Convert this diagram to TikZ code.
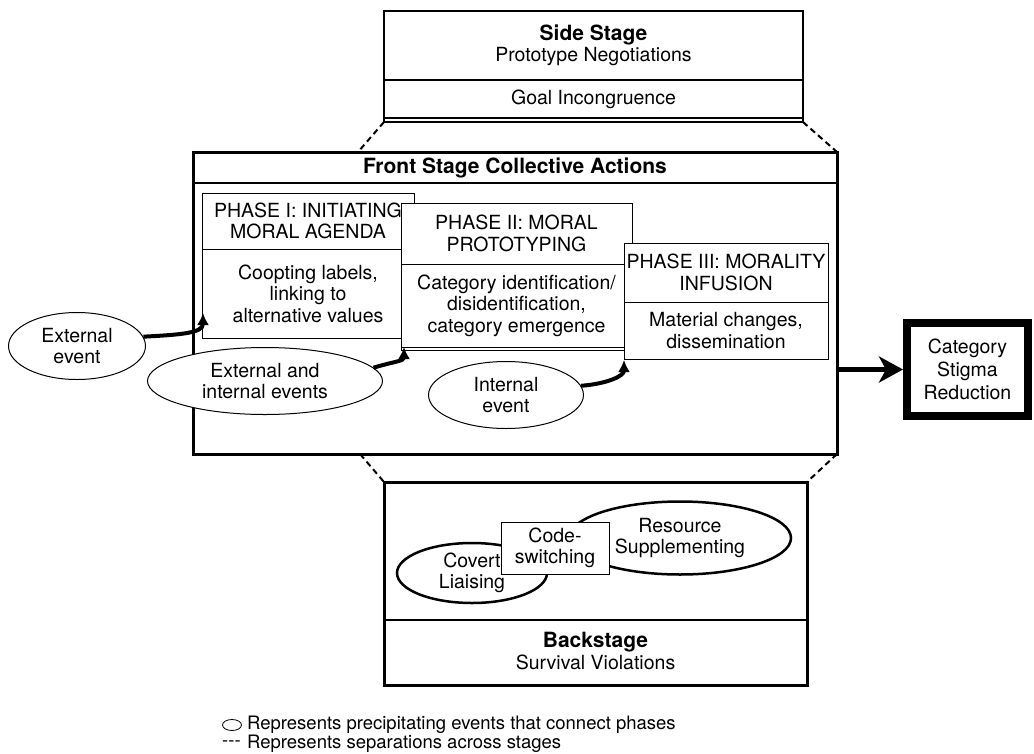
\documentclass[tikz,border=0pt]{standalone}
\usepackage{fontspec}
\setmainfont{TeX Gyre Heros}
\usetikzlibrary{shapes.geometric,arrows.meta,calc}
\begin{document}
\begin{tikzpicture}[x=1pt,y=-1pt,
  txt/.style={font=\fontsize{19.5}{21.5}\selectfont, align=center},
  ttlfont/.style={font=\fontsize{21}{23}\selectfont\bfseries},
  thinbox/.style={draw, line width=1pt, fill=white, inner sep=0pt, outer sep=0pt, txt},
  sidebox/.style={draw, line width=1.2pt, fill=white, inner sep=0pt, outer sep=0pt, txt},
  evt/.style={draw, ellipse, line width=1pt, inner sep=0pt, fill=white, txt},
  bevt/.style={draw, ellipse, line width=2.5pt, inner sep=0pt, txt},
  stagebox/.style={draw, line width=3pt, inner sep=0pt, outer sep=0pt},
  curvearrow/.style={line width=4pt, -{Latex[length=12pt,width=12pt]}},
  sepline/.style={dash pattern=on 6pt off 4pt, line width=2pt},
  divider/.style={line width=1.2pt},
  legfont/.style={font=\fontsize{18.5}{20}\selectfont, inner sep=0pt, anchor=west},
]
\useasboundingbox (0,0) rectangle (1034,753);

% ---------- Side stage ----------
\node[sidebox, minimum width=419, minimum height=69] (sidetop) at (593.5,45.5)
  {{\fontsize{21}{23}\selectfont\bfseries Side Stage}\\Prototype Negotiations};
\node[sidebox, minimum width=419, minimum height=38] (sidebot) at (593.5,99)
  {Goal Incongruence};
\draw[line width=1.2pt] (sidebot.south west) -- ++(0,4) coordinate (sidebl)
  -- ++(419,0) coordinate (sidebr) -- (sidebot.south east);

% ---------- Front stage ----------
\node[stagebox, minimum width=644, minimum height=302] (front) at (515,303) {};
\node[ttlfont] (fronttitle) at (515,168) {Front Stage Collective Actions};
\draw[divider] ($(front.north west)+(0,31)$) -- ($(front.north east)+(0,31)$);

% Phase I
\node[thinbox, minimum width=212, minimum height=56] (p1h) at (308,221)
  {PHASE I: INITIATING\\MORAL AGENDA};
\node[thinbox, minimum width=212, minimum height=89] (p1b) at (308,293.5)
  {Coopting labels,\\linking to\\alternative values};
% Phase II
\node[thinbox, minimum width=231, minimum height=61] (p2h) at (516.5,233.5)
  {PHASE II: MORAL\\PROTOTYPING};
\node[thinbox, minimum width=231, minimum height=83] (p2b) at (516.5,305.5)
  {Category identification/\\disidentification,\\category emergence};
\draw[line width=1pt] (p2b.south west) -- ++(0,3) -- ++(231,0);
% Phase III
\node[thinbox, minimum width=204, minimum height=59] (p3h) at (726,272.5)
  {PHASE III: MORALITY\\INFUSION};
\node[thinbox, minimum width=204, minimum height=57] (p3b) at (726,330.5)
  {Material changes,\\dissemination};

% Events
\node[evt, minimum width=137, minimum height=67] (ext) at (77,346) {External\\event};
\node[evt, minimum width=235, minimum height=67] (extint) at (265,381) {External and\\internal events};
\node[evt, minimum width=155, minimum height=67] (int) at (506,395) {Internal\\event};

\draw[curvearrow] (ext.8) .. controls +(38,-2) and +(0,20) .. ($(p1b.south west)+(1,-25)$);
\draw[curvearrow] (extint.7) .. controls +(20,-6) and +(0,14) .. ($(p2b.south west)+(3,0)$);
\draw[curvearrow] (int.7) .. controls +(26,-2) and +(0,16) .. ($(p3b.south west)+(0,1)$);

% ---------- Category ----------
\node[draw, line width=8pt, minimum width=121, minimum height=93, inner sep=0pt,
  font=\fontsize{19.5}{23}\selectfont, align=center] (cat) at (967.5,369.5)
  {Category\\Stigma\\Reduction};
\draw[line width=5pt, -{Stealth[length=24pt,width=26pt,inset=7pt]}]
  (front.east |- cat.west) -- (cat.west);

% ---------- Backstage ----------
\node[stagebox, minimum width=423, minimum height=203] (back) at (595.5,583.5) {};
\draw[divider] ($(back.south west)+(0,-65)$) -- ($(back.south east)+(0,-65)$);
\node[txt] (backtitle) at (595.5,651)
  {{\fontsize{21}{23}\selectfont\bfseries Backstage}\\Survival Violations};
\node[bevt, minimum width=222, minimum height=73] (res) at (680,538) {Resource\\Supplementing};
\node[bevt, minimum width=150, minimum height=60] (cov) at (472,573) {Covert\\Liaising};
\node[thinbox, minimum width=108, minimum height=52] (code) at (555,548) {Code-\\switching};

% ---------- Stage separations ----------
\coordinate (ftl) at ($(front.north west)+(165,0)$);
\coordinate (fbl) at ($(front.south west)+(167,0)$);
\draw[sepline] (sidebl) -- (ftl);
\draw[sepline] (sidebr) -- (front.north east);
\draw[sepline] (fbl) -- (back.north west);
\draw[sepline] (front.south east) -- (back.north east);

% ---------- Legend ----------
\node[draw, ellipse, line width=0.8pt, minimum width=19, minimum height=11, inner sep=0pt] (legell) at (232,725) {};
\node[legfont] (legtxt1) at (247,725) {Represents precipitating events that connect phases};
\node[legfont] (legdash) at (222,744) {{-}{-}{-}};
\node[legfont] (legtxt2) at (247,744) {Represents separations across stages};
\end{tikzpicture}
\end{document}
